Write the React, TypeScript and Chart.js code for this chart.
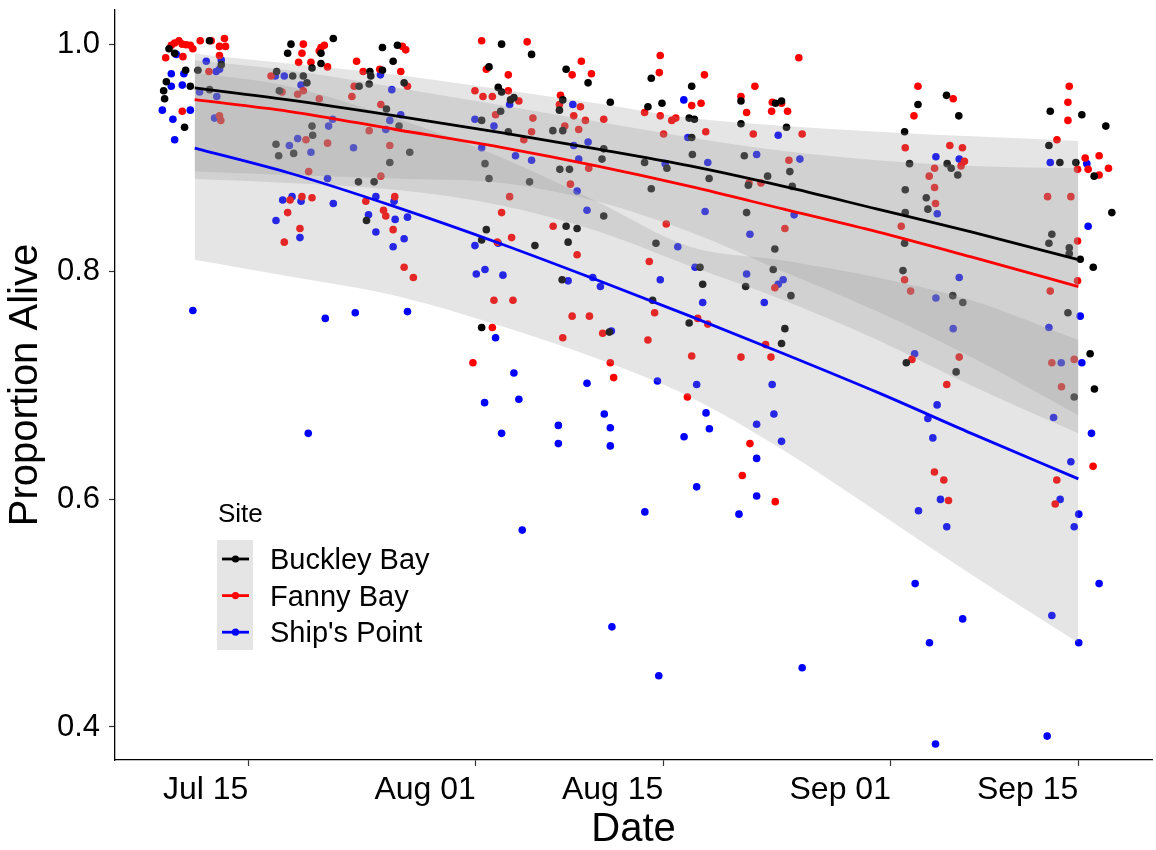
import { useEffect, useRef } from 'react';
import { Chart, registerables } from 'chart.js';

Chart.register(...registerables);

// Day numbers are counted from Jul 1 (Jul 1 = 0, Aug 1 = 31, Sep 1 = 62).
const siteNames = ['Buckley Bay', 'Fanny Bay', "Ship's Point"];
const siteColors = ['#000000', '#FF0000', '#0000FF'];

const tickDays = [14, 31, 45, 62, 76];
const tickLabels = ['Jul 15', 'Aug 01', 'Aug 15', 'Sep 01', 'Sep 15'];
const yTicks = [0.4, 0.6, 0.8, 1.0];

// Jittered observations: [day, proportion alive]
const buckleyPoints: [number, number][] = [
  [8.08, 0.996], [8.5, 0.992], [11.1, 1.003], [9.32, 0.977], [10.24, 0.977], [7.88, 0.967], [7.68, 0.959], [9.67, 0.963], [7.75, 0.952], [9.24, 0.927], [11.11, 0.96], [11.98, 0.982],
  [17.19, 1.0], [16.94, 0.992], [19.43, 0.992], [20.35, 1.005], [19.43, 0.983], [18.76, 0.979], [16.12, 0.976], [17.32, 0.972], [18.11, 0.972], [18.38, 0.966], [16.32, 0.959], [18.76, 0.928], [18.81, 0.92], [16.07, 0.912], [16.27, 0.902], [17.39, 0.904],
  [24.02, 0.997], [25.14, 0.999], [24.82, 0.985], [23.08, 0.976], [23.15, 0.972], [24.02, 0.977], [22.28, 0.963], [23.03, 0.965], [25.64, 0.966], [24.32, 0.943], [25.26, 0.928], [24.57, 0.896], [26.06, 0.905], [22.23, 0.879], [23.4, 0.879], [22.83, 0.845],
  [32.92, 1.0], [35.16, 0.991], [31.98, 0.98], [32.67, 0.962], [32.92, 0.958], [33.59, 0.951], [33.84, 0.953], [32.85, 0.941], [31.43, 0.933], [33.42, 0.923], [31.68, 0.895], [31.98, 0.882], [35.01, 0.879], [31.78, 0.837], [31.43, 0.828], [35.41, 0.823], [31.43, 0.751],
  [37.74, 0.978], [39.38, 0.966], [37.49, 0.951], [37.24, 0.942], [41.04, 0.949], [36.75, 0.924], [37.49, 0.924], [40.55, 0.908], [40.42, 0.899], [37.27, 0.89], [37.99, 0.89], [40.55, 0.849], [37.74, 0.84], [38.56, 0.838], [37.89, 0.826], [37.44, 0.793], [40.97, 0.747],
  [44.1, 0.97], [43.85, 0.945], [43.6, 0.896], [44.1, 0.873], [44.2, 0.775], [44.45, 0.825], [44.9, 0.948], [45.27, 0.891], [47.12, 0.963], [46.93, 0.935], [47.32, 0.934], [47.12, 0.918], [47.17, 0.903], [48.42, 0.882], [47.74, 0.804], [47.94, 0.789], [46.93, 0.755],
  [50.8, 0.95], [50.8, 0.93], [53.83, 0.95], [53.38, 0.948], [54.2, 0.927], [51.05, 0.902], [51.35, 0.876], [52.79, 0.884], [54.45, 0.888], [54.63, 0.875], [51.22, 0.852], [53.33, 0.82], [53.21, 0.802], [51.15, 0.787], [54.53, 0.779], [54.08, 0.75], [53.83, 0.737],
  [63.02, 0.923], [63.39, 0.895], [63.07, 0.872], [63.07, 0.852], [63.02, 0.825], [62.9, 0.801], [63.15, 0.72], [64.02, 0.947], [66.15, 0.955], [67.07, 0.937], [66.2, 0.895], [66.5, 0.891], [66.99, 0.885], [64.64, 0.865], [64.76, 0.855], [66.62, 0.779], [67.37, 0.773], [66.87, 0.712],
  [73.9, 0.941], [76.26, 0.938], [78.05, 0.928], [73.8, 0.911], [74.62, 0.896], [75.81, 0.896], [77.18, 0.884], [78.5, 0.852], [74.02, 0.833], [73.8, 0.825], [75.32, 0.821], [75.32, 0.816], [76.14, 0.811], [77.11, 0.804], [75.22, 0.764], [76.88, 0.728], [75.69, 0.69], [77.2, 0.697],
];

const fannyPoints: [number, number][] = [
  [8.25, 0.999], [8.5, 1.001], [8.82, 1.003], [9.07, 1.0], [9.37, 0.9995], [9.67, 0.999], [9.86, 0.996], [10.41, 1.003], [11.23, 1.003], [11.85, 0.998], [12.22, 1.005], [12.3, 0.998], [7.83, 0.988], [9.12, 0.989], [11.85, 0.99], [9.07, 0.941], [11.06, 0.976], [11.85, 0.937], [11.95, 0.933],
  [18.11, 1.0], [18.01, 0.992], [19.43, 0.997], [19.68, 0.999], [19.3, 0.994], [17.76, 0.984], [18.68, 0.984], [19.92, 0.98], [15.7, 0.972], [16.52, 0.958], [17.69, 0.956], [18.11, 0.959], [19.3, 0.952], [18.31, 0.916], [19.92, 0.913], [18.51, 0.888], [17.12, 0.863], [18.01, 0.866], [18.76, 0.865], [16.94, 0.852], [17.86, 0.838], [16.69, 0.826],
  [25.51, 0.998], [25.76, 0.995], [22.09, 0.985], [22.58, 0.976], [23.82, 0.978], [25.39, 0.976], [21.91, 0.963], [25.89, 0.963], [21.74, 0.954], [23.9, 0.947], [23.03, 0.924], [24.57, 0.911], [23.9, 0.884], [24.94, 0.866], [22.78, 0.862], [24.1, 0.854], [24.27, 0.849], [24.82, 0.837], [25.64, 0.804], [26.33, 0.795],
  [31.43, 1.003], [34.83, 1.002], [31.78, 0.978], [33.42, 0.973], [30.93, 0.959], [31.53, 0.954], [32.23, 0.954], [33.42, 0.959], [34.21, 0.95], [32.47, 0.938], [35.26, 0.935], [35.16, 0.923], [34.58, 0.916], [33.52, 0.866], [32.92, 0.852], [33.67, 0.83], [32.6, 0.826], [32.35, 0.775], [33.77, 0.775], [32.23, 0.751], [30.78, 0.72],
  [38.88, 0.985], [38.19, 0.973], [39.63, 0.974], [37.32, 0.955], [37.24, 0.947], [38.81, 0.945], [38.31, 0.937], [39.18, 0.933], [40.55, 0.934], [37.64, 0.928], [38.68, 0.925], [39.43, 0.891], [38.06, 0.877], [36.77, 0.84], [38.56, 0.815], [38.19, 0.761], [39.48, 0.761], [40.47, 0.746], [37.49, 0.742], [41.04, 0.72], [41.29, 0.707],
  [43.6, 0.94], [43.95, 0.809], [44.35, 0.764], [43.85, 0.74], [44.77, 0.99], [44.7, 0.975], [44.77, 0.937], [45.02, 0.921], [45.22, 0.842], [48.07, 0.973], [47.12, 0.946], [47.82, 0.948], [45.63, 0.933], [45.93, 0.935], [48.17, 0.923], [47.57, 0.759], [48.32, 0.754], [47.12, 0.726], [46.8, 0.69],
  [50.8, 0.954], [51.84, 0.963], [51.22, 0.94], [53.14, 0.949], [53.83, 0.948], [54.28, 0.941], [53.09, 0.941], [51.72, 0.921], [55.37, 0.921], [55.12, 0.988], [54.38, 0.898], [51.4, 0.878], [52.29, 0.878], [54.08, 0.838], [53.33, 0.786], [52.64, 0.736], [50.8, 0.725], [53.04, 0.725], [51.47, 0.649], [50.9, 0.621], [53.36, 0.598],
  [64.02, 0.963], [63.72, 0.937], [63.07, 0.909], [62.77, 0.84], [63.02, 0.793], [63.47, 0.783], [63.57, 0.723], [66.4, 0.911], [67.34, 0.909], [66.65, 0.952], [67.49, 0.897], [67.24, 0.893], [65.26, 0.891], [64.86, 0.884], [65.26, 0.874], [65.33, 0.86], [67.1, 0.725], [66.17, 0.701], [65.25, 0.624], [65.95, 0.617], [66.3, 0.599],
  [75.32, 0.963], [75.22, 0.949], [75.22, 0.933], [74.4, 0.916], [76.51, 0.9], [77.55, 0.902], [78.25, 0.891], [76.73, 0.89], [77.55, 0.885], [75.94, 0.89], [73.7, 0.866], [75.44, 0.866], [75.94, 0.827], [75.94, 0.792], [73.9, 0.783], [75.69, 0.723], [74.02, 0.72], [74.74, 0.699], [77.1, 0.629], [74.39, 0.617], [74.27, 0.596],
];

const shipsPoints: [number, number][] = [
  [8.62, 0.991], [10.86, 0.985], [11.98, 0.986], [8.25, 0.974], [9.19, 0.974], [11.6, 0.976], [11.85, 0.978], [8.25, 0.963], [9.07, 0.964], [10.36, 0.958], [11.65, 0.954], [7.58, 0.942], [9.67, 0.942], [8.37, 0.934], [8.5, 0.916], [11.48, 0.935], [9.86, 0.766],
  [16.02, 0.972], [16.69, 0.972], [17.94, 0.964], [20.3, 0.934], [20.0, 0.928], [17.69, 0.917], [17.07, 0.911], [18.68, 0.905], [19.92, 0.882], [16.57, 0.863], [17.27, 0.866], [17.94, 0.862], [20.35, 0.86], [16.07, 0.845], [17.86, 0.83], [19.75, 0.759], [18.48, 0.658],
  [23.87, 0.973], [24.72, 0.96], [24.57, 0.933], [25.39, 0.938], [24.27, 0.925], [21.86, 0.909], [23.53, 0.866], [24.89, 0.862], [22.98, 0.85], [24.97, 0.846], [25.89, 0.848], [23.53, 0.835], [25.64, 0.829], [24.82, 0.822], [21.99, 0.764], [25.89, 0.765],
  [33.52, 0.947], [30.93, 0.934], [32.35, 0.928], [31.43, 0.909], [33.96, 0.902], [35.16, 0.898], [30.93, 0.823], [32.67, 0.825], [31.03, 0.798], [31.68, 0.802], [33.02, 0.797], [32.47, 0.742], [33.84, 0.711], [31.65, 0.685], [34.21, 0.688], [32.92, 0.658], [34.46, 0.573],
  [38.24, 0.947], [39.38, 0.914], [38.31, 0.911], [38.68, 0.899], [38.56, 0.871], [39.3, 0.854], [37.89, 0.792], [39.73, 0.795], [40.3, 0.787], [41.12, 0.748], [39.3, 0.702], [37.16, 0.665], [37.16, 0.649], [40.59, 0.675], [41.04, 0.663], [41.04, 0.647], [41.16, 0.488],
  [44.77, 0.793], [45.14, 0.895], [46.53, 0.951], [46.83, 0.918], [48.32, 0.896], [48.12, 0.853], [46.08, 0.822], [47.37, 0.804], [47.94, 0.773], [43.62, 0.589], [44.56, 0.704], [44.66, 0.445], [47.49, 0.701], [46.55, 0.655], [48.19, 0.676], [48.44, 0.662], [47.49, 0.611],
  [51.97, 0.903], [53.58, 0.92], [55.2, 0.899], [54.77, 0.85], [51.47, 0.833], [51.22, 0.798], [53.95, 0.793], [53.58, 0.789], [52.54, 0.773], [51.97, 0.666], [53.26, 0.675], [53.13, 0.701], [53.83, 0.651], [51.97, 0.636], [51.97, 0.603], [50.65, 0.587], [55.37, 0.452],
  [63.77, 0.728], [65.36, 0.901], [67.1, 0.899], [65.46, 0.851], [67.1, 0.795], [65.36, 0.777], [66.65, 0.75], [65.45, 0.683], [64.76, 0.671], [65.13, 0.654], [65.7, 0.6], [64.06, 0.59], [66.17, 0.576], [63.81, 0.526], [67.36, 0.495], [64.88, 0.474], [65.33, 0.385],
  [73.9, 0.896], [76.63, 0.895], [76.73, 0.84], [76.14, 0.761], [73.8, 0.751], [74.72, 0.72], [76.26, 0.72], [74.15, 0.672], [76.98, 0.658], [75.44, 0.633], [74.64, 0.6], [76.03, 0.587], [75.69, 0.576], [77.55, 0.526], [74.02, 0.498], [76.03, 0.474], [73.67, 0.392],
];

// Fitted survival curves with their confidence bands
const fitDays = [10, 17, 25, 33, 40, 47, 54, 61, 68, 76];

const buckleyFit = [0.9615, 0.951, 0.937, 0.922, 0.908, 0.893, 0.875, 0.855, 0.835, 0.8106];
const buckleyLow = [0.888, 0.885, 0.882, 0.878, 0.862, 0.835, 0.8, 0.765, 0.725, 0.674];
const buckleyHigh = [0.9916, 0.983, 0.973, 0.96, 0.948, 0.935, 0.928, 0.923, 0.919, 0.915];

const fannyFit = [0.9512, 0.941, 0.925, 0.909, 0.893, 0.875, 0.855, 0.835, 0.813, 0.787];
const fannyLow = [0.8815, 0.878, 0.872, 0.858, 0.836, 0.805, 0.775, 0.74, 0.7, 0.658];
const fannyHigh = [0.9858, 0.977, 0.962, 0.946, 0.932, 0.918, 0.906, 0.898, 0.893, 0.891];

const shipsFit = [0.9087, 0.887, 0.857, 0.824, 0.793, 0.761, 0.728, 0.694, 0.658, 0.618];
const shipsLow = [0.8106, 0.796, 0.779, 0.752, 0.724, 0.69, 0.643, 0.589, 0.534, 0.474];
const shipsHigh = [0.975, 0.963, 0.935, 0.9, 0.862, 0.822, 0.81, 0.795, 0.775, 0.74];

const ribbonFill = 'rgba(153,153,153,0.25)';
const fontFamily = '"Liberation Sans", Arial, sans-serif';

const toXY = (days: number[], vals: number[]) => days.map((d, i) => ({ x: d, y: vals[i] }));

export default function App() {
  const canvasRef = useRef<HTMLCanvasElement | null>(null);

  useEffect(() => {
    if (!canvasRef.current) return;

    const points = [buckleyPoints, fannyPoints, shipsPoints];
    const fits = [buckleyFit, fannyFit, shipsFit];
    const lows = [buckleyLow, fannyLow, shipsLow];
    const highs = [buckleyHigh, fannyHigh, shipsHigh];

    const datasets: any[] = [];
    siteNames.forEach((name, i) => {
      datasets.push({
        type: 'scatter',
        label: name,
        data: points[i].map(([x, y]) => ({ x, y })),
        backgroundColor: siteColors[i],
        borderWidth: 0,
        pointRadius: 3.8,
        order: 3,
      });
    });
    siteNames.forEach((name, i) => {
      datasets.push({
        type: 'line',
        label: name + ' upper',
        data: toXY(fitDays, highs[i]),
        borderWidth: 0,
        pointRadius: 0,
        backgroundColor: ribbonFill,
        fill: '+1',
        cubicInterpolationMode: 'monotone',
        order: 2,
      });
      datasets.push({
        type: 'line',
        label: name + ' lower',
        data: toXY(fitDays, lows[i]),
        borderWidth: 0,
        pointRadius: 0,
        fill: false,
        cubicInterpolationMode: 'monotone',
        order: 2,
      });
    });
    siteNames.forEach((name, i) => {
      datasets.push({
        type: 'line',
        label: name + ' fit',
        data: toXY(fitDays, fits[i]),
        borderColor: siteColors[i],
        borderWidth: 2.8,
        pointRadius: 0,
        fill: false,
        cubicInterpolationMode: 'monotone',
        order: 1,
      });
    });

    const legendPlugin = {
      id: 'siteLegend',
      afterDraw(chart: any) {
        const ctx = chart.ctx as CanvasRenderingContext2D;
        ctx.save();
        ctx.textAlign = 'left';
        ctx.textBaseline = 'middle';
        ctx.fillStyle = '#000';
        ctx.font = `26px ${fontFamily}`;
        ctx.fillText('Site', 218, 515);
        ctx.fillStyle = ribbonFill;
        ctx.fillRect(217, 540, 36, 110);
        siteNames.forEach((name, i) => {
          const y = 559 + i * 36.6;
          ctx.strokeStyle = siteColors[i];
          ctx.lineWidth = 2.8;
          ctx.beginPath();
          ctx.moveTo(222, y);
          ctx.lineTo(249, y);
          ctx.stroke();
          ctx.fillStyle = siteColors[i];
          ctx.beginPath();
          ctx.arc(235.5, y, 3.6, 0, Math.PI * 2);
          ctx.fill();
          ctx.fillStyle = '#000';
          ctx.font = `29px ${fontFamily}`;
          ctx.fillText(name, 270, y + 2);
        });
        ctx.restore();
      },
    };

    const chart = new Chart(canvasRef.current, {
      type: 'scatter',
      data: { datasets },
      plugins: [legendPlugin],
      options: {
        animation: false,
        responsive: false,
        devicePixelRatio: 1,
        layout: { padding: { left: 0, right: 0, top: 10, bottom: 0 } },
        plugins: {
          legend: { display: false },
          tooltip: { enabled: false },
        },
        scales: {
          x: {
            type: 'linear',
            min: 4.045,
            max: 81.5,
            afterFit: (scale: any) => {
              scale.height = 90;
              scale.paddingLeft = 0;
              scale.paddingRight = 0;
            },
            afterBuildTicks: (scale: any) => {
              scale.ticks = tickDays.map((v) => ({ value: v }));
            },
            ticks: {
              align: 'end',
              color: '#000',
              padding: 8,
              font: { family: fontFamily, size: 32, lineHeight: 1 },
              callback: (v: any) => tickLabels[tickDays.indexOf(Number(v))] ?? '',
            },
            grid: { drawOnChartArea: false, drawTicks: true, tickLength: 6, tickColor: '#333', tickWidth: 1.2 },
            border: { display: true, color: '#000', width: 1.3 },
            title: {
              display: true,
              text: 'Date',
              color: '#000',
              font: { family: fontFamily, size: 40, lineHeight: 1 },
              padding: { top: 0, bottom: 0 },
            },
          },
          y: {
            type: 'linear',
            min: 0.371,
            max: 1.03,
            afterFit: (scale: any) => {
              scale.width = 115;
              scale.paddingTop = 0;
              scale.paddingBottom = 0;
            },
            afterBuildTicks: (scale: any) => {
              scale.ticks = yTicks.map((v) => ({ value: v }));
            },
            ticks: {
              color: '#000',
              padding: 9,
              font: { family: fontFamily, size: 31, lineHeight: 1 },
              callback: (v: any) => Number(v).toFixed(1),
            },
            grid: { drawOnChartArea: false, drawTicks: true, tickLength: 6, tickColor: '#333', tickWidth: 1.2 },
            border: { display: true, color: '#000', width: 1.3 },
            title: {
              display: true,
              text: 'Proportion Alive',
              color: '#000',
              font: { family: fontFamily, size: 40, lineHeight: 1 },
              padding: { top: 6, bottom: 0 },
            },
          },
        },
      },
    });

    return () => chart.destroy();
  }, []);

  return (
    <div style={{ position: 'absolute', left: 0, top: 0, width: 1156, height: 850, background: '#fff' }}>
      <canvas ref={canvasRef} width={1156} height={850} />
    </div>
  );
}
